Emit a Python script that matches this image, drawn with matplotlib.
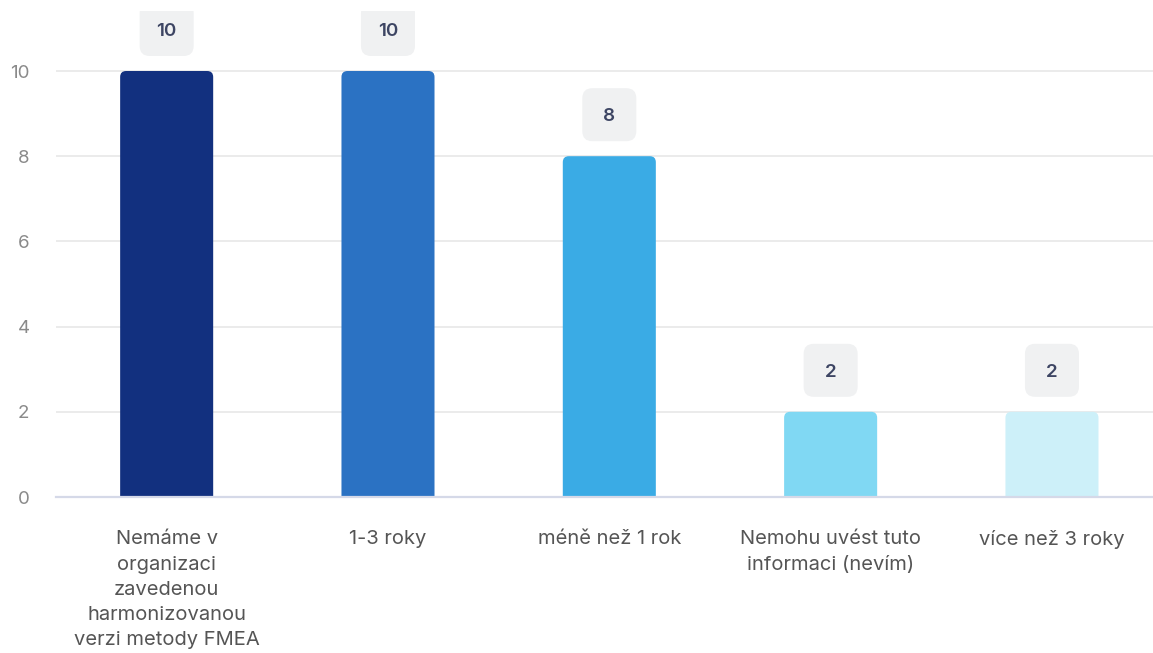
import matplotlib
matplotlib.use("Agg")
import matplotlib.pyplot as plt
from matplotlib.patches import FancyBboxPatch

# chart data
categories = [
    "Nemáme v\norganizaci\nzavedenou\nharmonizovanou\nverzi metody FMEA",
    "1-3 roky",
    "méně než 1 rok",
    "Nemohu uvést tuto\ninformaci (nevím)",
    "více než 3 roky",
]
values = [10, 10, 8, 2, 2]
bar_colors = ["#12307f", "#2b72c3", "#3aabe5", "#80d8f3", "#cdf0f9"]
y_ticks = [0, 2, 4, 6, 8, 10]

plt.rcParams["font.family"] = ["Inter", "DejaVu Sans"]

W, H = 1153, 653


def plot_bars():
    fig = plt.figure(figsize=(W / 100, H / 100), dpi=100)
    top_px = 11  # chart area is cut off a little above the top badges
    ax = fig.add_axes([56 / W, (H - 497) / H, 1 - 56 / W, (497 - top_px) / H])

    px_x = 221.25  # pixels per category
    px_y = 42.6    # pixels per unit
    ax.set_xlim(-0.5, (W - 167) / px_x)
    ax.set_ylim(0, (497 - top_px) / px_y)

    width = 93 / px_x
    bars = ax.bar(range(len(values)), values, width=width, color=bar_colors)
    aspect = px_x / px_y

    for bar, col in zip(bars, bar_colors):
        bar.set_visible(False)
        x0 = bar.get_x()
        h = bar.get_height()
        p = FancyBboxPatch((x0, -0.5), width, h + 0.5,
                           boxstyle="round,pad=0,rounding_size=%f" % (6 / px_x),
                           mutation_aspect=aspect, facecolor=col,
                           edgecolor="none", zorder=3)
        ax.add_patch(p)

        # value badge
        bw = 54 / px_x
        bh = 53 / px_y
        by = h + 15 / px_y
        cx = x0 + width / 2
        badge = FancyBboxPatch((cx - bw / 2, by), bw, bh,
                               boxstyle="round,pad=0,rounding_size=%f" % (10 / px_x),
                               mutation_aspect=aspect, facecolor="#f0f1f2",
                               edgecolor="none", zorder=3, clip_on=True)
        ax.add_patch(badge)
        ax.text(cx, by + bh / 2 - 2 / px_y, str(int(h)), ha="center", va="center",
                fontsize=13.5, fontweight="semibold", color="#3d4563", zorder=4,
                clip_on=False)

    ax.set_yticks(y_ticks)
    ax.set_yticklabels([str(t) for t in y_ticks], color="#8a8a8a", fontsize=13.5)
    ax.tick_params(axis="y", length=0, pad=19)
    ax.grid(axis="y", color="#e8e8e8", linewidth=1.2, zorder=0)
    ax.set_axisbelow(True)

    ax.set_xticks(range(len(categories)))
    ax.set_xticklabels(categories, color="#555555", fontsize=14.5,
                       linespacing=1.52, va="top")
    ax.tick_params(axis="x", length=0, pad=24)

    for side in ["top", "right", "left"]:
        ax.spines[side].set_visible(False)
    ax.spines["bottom"].set_color("#d5d9e8")
    ax.spines["bottom"].set_linewidth(1.6)
    ax.spines["bottom"].set_zorder(5)

    fig.savefig("out.png", dpi=100, facecolor="white")


def main():
    plot_bars()


if __name__ == "__main__":
    main()
